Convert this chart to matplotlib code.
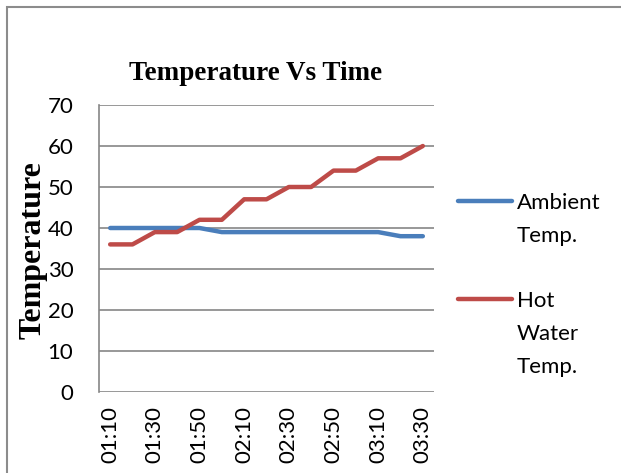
import matplotlib.pyplot as plt
from matplotlib.patches import Rectangle
from matplotlib.lines import Line2D

# data
times = ['01:10', '01:20', '01:30', '01:40', '01:50', '02:00', '02:10', '02:20',
         '02:30', '02:40', '02:50', '03:00', '03:10', '03:20', '03:30']
ambient = [40, 40, 40, 40, 40, 39, 39, 39, 39, 39, 39, 39, 39, 38, 38]
hot_water = [36, 36, 39, 39, 42, 42, 47, 47, 50, 50, 54, 54, 57, 57, 60]
yticks = [0, 10, 20, 30, 40, 50, 60, 70]

blue = '#4A7EBB'
red = '#BE4B48'
grid_c = '#868686'
sans = ['Lato', 'DejaVu Sans']
serif = ['Liberation Serif', 'DejaVu Serif']

W, H = 621, 473
fig = plt.figure(figsize=(W / 100, H / 100), dpi=100)
ax = fig.add_axes([99 / W, 1 - 392 / H, 335 / W, 287 / H])

x = list(range(len(times)))
ax.plot(x, ambient, color=blue, lw=3.2, solid_capstyle='round', solid_joinstyle='round', zorder=3)
ax.plot(x, hot_water, color=red, lw=3.2, solid_capstyle='round', solid_joinstyle='round', zorder=3)

ax.set_xlim(-0.5, len(times) - 0.5)
ax.set_ylim(0, 70)
ax.set_yticks(yticks)
ax.set_yticklabels([str(v) for v in yticks], fontfamily=sans, fontsize=16)
ax.set_xticks(x[::2])
ax.set_xticklabels(times[::2], rotation=90, fontfamily=sans, fontsize=16, va='top')
ax.tick_params(length=0, pad=10)
ax.tick_params(axis='y', pad=18.5)
ax.grid(axis='y', color=grid_c, lw=1.2)
ax.set_axisbelow(True)
for s in ['top', 'right', 'bottom']:
    ax.spines[s].set_visible(False)
ax.spines['left'].set_color(grid_c)
ax.spines['left'].set_linewidth(1.2)

# title and y label
fig.text(256 / W, 1 - 80 / H, 'Temperature Vs Time', ha='center', va='baseline',
         fontfamily=serif, fontweight='bold', fontsize=19.5)
fig.text(33 / W, 1 - 250 / H, 'Temperature', ha='center', va='center', rotation=90,
         fontfamily=serif, fontweight='bold', fontsize=23)

# legend, Excel style (line next to first text line)
legend_items = [(201, ['Ambient', 'Temp.'], blue), (299, ['Hot', 'Water', 'Temp.'], red)]
for y0, lines, c in legend_items:
    fig.add_artist(Line2D([458 / W, 512 / W], [1 - y0 / H, 1 - y0 / H], color=c, lw=3.2,
                          solid_capstyle='round'))
    for i, t in enumerate(lines):
        fig.text(517 / W, 1 - (y0 + 8 + 33 * i) / H, t, ha='left', va='baseline',
                 fontfamily=sans, fontsize=16)

# chart frame (cropped on right and bottom)
fig.add_artist(Rectangle((7 / W, -0.1), 1.2, 1.1 - 7 / H, transform=fig.transFigure,
                         fill=False, edgecolor='#8c8c8c', lw=1.5))

fig.savefig('out.png', dpi=100)
